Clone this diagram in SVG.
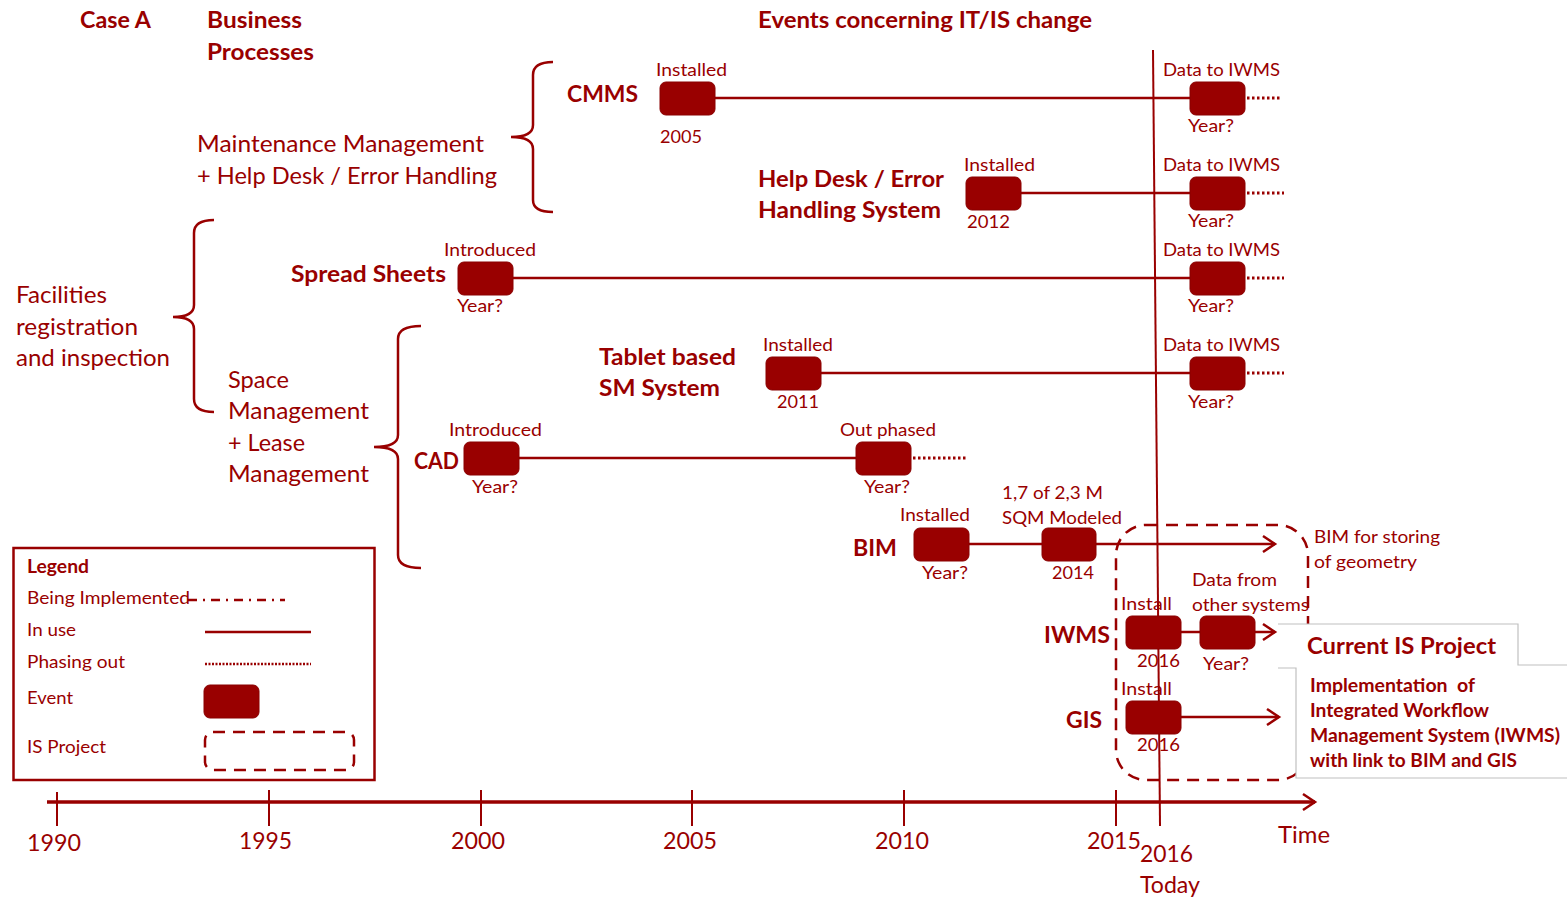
<svg xmlns="http://www.w3.org/2000/svg" width="1567" height="898" viewBox="0 0 1567 898">
<style>
text{font-family:Lato,"Liberation Sans",sans-serif;fill:#990000;}
.b{font-weight:bold;}
.h{font-size:23px;font-weight:bold;}
.p{font-size:23px;}
.s{font-size:18px;}
.sys{font-size:23px;font-weight:bold;}
.ax{font-size:24px;}
.lg{font-size:18px;}
.ln{stroke:#990000;stroke-width:2.5;fill:none;}
.dot{stroke:#990000;stroke-width:3;fill:none;stroke-dasharray:2.5,2.5;}
.ev{fill:#990000;stroke:#8a0000;stroke-width:1;}
.br{stroke:#990000;stroke-width:2.5;fill:none;}
.dash{stroke:#990000;stroke-width:2.5;fill:none;stroke-dasharray:12,8;}
</style>
<defs>
<marker id="chev" markerUnits="userSpaceOnUse" markerWidth="18" markerHeight="22" refX="15" refY="11" orient="auto">
<path d="M3,3 L15,11 L3,19" fill="none" stroke="#990000" stroke-width="2.5"/>
</marker>
</defs>
<rect width="1567" height="898" fill="#ffffff"/>

<g id="headers">
<text class="h" x="80" y="28" textLength="71" lengthAdjust="spacingAndGlyphs">Case A</text>
<text class="h" x="207" y="28" textLength="95" lengthAdjust="spacingAndGlyphs">Business</text>
<text class="h" x="207" y="60" textLength="107" lengthAdjust="spacingAndGlyphs">Processes</text>
<text class="h" x="758" y="28" textLength="334" lengthAdjust="spacingAndGlyphs">Events concerning IT/IS change</text>
</g>

<g id="process-maintenance">
<text class="p" x="197" y="152" textLength="287" lengthAdjust="spacingAndGlyphs">Maintenance Management</text>
<text class="p" x="197" y="184" textLength="300" lengthAdjust="spacingAndGlyphs">+ Help Desk / Error Handling</text>
<path class="br" d="M553,62 Q533,62 533,75 L533,125 Q533,137 511,137 Q533,137 533,149 L533,200 Q533,212 553,212"/>
</g>

<g id="process-facilities">
<text class="p" x="16" y="303" textLength="91" lengthAdjust="spacingAndGlyphs">Facilities</text>
<text class="p" x="16" y="335" textLength="122" lengthAdjust="spacingAndGlyphs">registration</text>
<text class="p" x="16" y="366" textLength="154" lengthAdjust="spacingAndGlyphs">and inspection</text>
<path class="br" d="M214,220 Q194,220 194,233 L194,305 Q194,317 173,317 Q194,317 194,329 L194,399 Q194,412 214,412"/>
</g>

<g id="process-space">
<text class="p" x="228" y="388" textLength="61" lengthAdjust="spacingAndGlyphs">Space</text>
<text class="p" x="228" y="419" textLength="141" lengthAdjust="spacingAndGlyphs">Management</text>
<text class="p" x="228" y="451" textLength="77" lengthAdjust="spacingAndGlyphs">+ Lease</text>
<text class="p" x="228" y="482" textLength="141" lengthAdjust="spacingAndGlyphs">Management</text>
<path class="br" d="M421,326 Q398,326 398,339 L398,435 Q398,447 374,447 Q398,447 398,459 L398,555 Q398,568 421,568"/>
</g>

<g id="today-line">
<line x1="1153" y1="50" x2="1160" y2="826" stroke="#990000" stroke-width="2"/>
</g>

<g id="connectors">
<line class="ln" x1="715" y1="98" x2="1190" y2="98"/>
<line class="dot" x1="1247" y1="98" x2="1280" y2="98"/>
<line class="ln" x1="1021" y1="193" x2="1190" y2="193"/>
<line class="dot" x1="1247" y1="193" x2="1284" y2="193"/>
<line class="ln" x1="513" y1="278" x2="1190" y2="278"/>
<line class="dot" x1="1247" y1="278" x2="1284" y2="278"/>
<line class="ln" x1="821" y1="373" x2="1190" y2="373"/>
<line class="dot" x1="1247" y1="373" x2="1284" y2="373"/>
<line class="ln" x1="519" y1="458" x2="856" y2="458"/>
<line class="dot" x1="913" y1="458" x2="966" y2="458"/>
<line class="ln" x1="969" y1="544" x2="1042" y2="544"/>
<line class="ln" x1="1096" y1="544" x2="1275" y2="544" marker-end="url(#chev)"/>
<line class="ln" x1="1181" y1="632" x2="1200" y2="632"/>
<line class="ln" x1="1255" y1="632" x2="1275" y2="632" marker-end="url(#chev)"/>
<line class="ln" x1="1181" y1="717" x2="1279" y2="717" marker-end="url(#chev)"/>
</g>

<g id="cmms">
<text class="sys" x="567" y="102" textLength="71" lengthAdjust="spacingAndGlyphs">CMMS</text>
<rect class="ev" x="660" y="82" width="55" height="33" rx="6"/>
<text class="s" x="656" y="76" textLength="71" lengthAdjust="spacingAndGlyphs">Installed</text>
<text class="s" x="660" y="143" textLength="42" lengthAdjust="spacingAndGlyphs">2005</text>
<rect class="ev" x="1190" y="82" width="55" height="33" rx="6"/>
<text class="s" x="1163" y="76" textLength="117" lengthAdjust="spacingAndGlyphs">Data to IWMS</text>
<text class="s" x="1188" y="132" textLength="46" lengthAdjust="spacingAndGlyphs">Year?</text>
</g>

<g id="helpdesk">
<text class="sys" x="758" y="187" textLength="186" lengthAdjust="spacingAndGlyphs">Help Desk / Error</text>
<text class="sys" x="758" y="218" textLength="183" lengthAdjust="spacingAndGlyphs">Handling System</text>
<rect class="ev" x="966" y="177" width="55" height="33" rx="6"/>
<text class="s" x="964" y="171" textLength="71" lengthAdjust="spacingAndGlyphs">Installed</text>
<text class="s" x="967" y="228" textLength="43" lengthAdjust="spacingAndGlyphs">2012</text>
<rect class="ev" x="1190" y="177" width="55" height="33" rx="6"/>
<text class="s" x="1163" y="171" textLength="117" lengthAdjust="spacingAndGlyphs">Data to IWMS</text>
<text class="s" x="1188" y="227" textLength="46" lengthAdjust="spacingAndGlyphs">Year?</text>
</g>

<g id="spreadsheets">
<text class="sys" x="291" y="282" textLength="155" lengthAdjust="spacingAndGlyphs">Spread Sheets</text>
<rect class="ev" x="458" y="262" width="55" height="33" rx="6"/>
<text class="s" x="444" y="256" textLength="92" lengthAdjust="spacingAndGlyphs">Introduced</text>
<text class="s" x="457" y="312" textLength="46" lengthAdjust="spacingAndGlyphs">Year?</text>
<rect class="ev" x="1190" y="262" width="55" height="33" rx="6"/>
<text class="s" x="1163" y="256" textLength="117" lengthAdjust="spacingAndGlyphs">Data to IWMS</text>
<text class="s" x="1188" y="312" textLength="46" lengthAdjust="spacingAndGlyphs">Year?</text>
</g>

<g id="tablet">
<text class="sys" x="599" y="365" textLength="137" lengthAdjust="spacingAndGlyphs">Tablet based</text>
<text class="sys" x="599" y="396" textLength="121" lengthAdjust="spacingAndGlyphs">SM System</text>
<rect class="ev" x="766" y="357" width="55" height="33" rx="6"/>
<text class="s" x="763" y="351" textLength="70" lengthAdjust="spacingAndGlyphs">Installed</text>
<text class="s" x="777" y="408" textLength="42" lengthAdjust="spacingAndGlyphs">2011</text>
<rect class="ev" x="1190" y="357" width="55" height="33" rx="6"/>
<text class="s" x="1163" y="351" textLength="117" lengthAdjust="spacingAndGlyphs">Data to IWMS</text>
<text class="s" x="1188" y="408" textLength="46" lengthAdjust="spacingAndGlyphs">Year?</text>
</g>

<g id="cad">
<text class="sys" x="414" y="469" textLength="45" lengthAdjust="spacingAndGlyphs">CAD</text>
<rect class="ev" x="464" y="442" width="55" height="33" rx="6"/>
<text class="s" x="449" y="436" textLength="93" lengthAdjust="spacingAndGlyphs">Introduced</text>
<text class="s" x="472" y="493" textLength="46" lengthAdjust="spacingAndGlyphs">Year?</text>
<rect class="ev" x="856" y="442" width="55" height="33" rx="6"/>
<text class="s" x="840" y="436" textLength="96" lengthAdjust="spacingAndGlyphs">Out phased</text>
<text class="s" x="864" y="493" textLength="46" lengthAdjust="spacingAndGlyphs">Year?</text>
</g>

<g id="bim">
<text class="sys" x="853" y="556" textLength="44" lengthAdjust="spacingAndGlyphs">BIM</text>
<rect class="ev" x="914" y="528" width="55" height="33" rx="6"/>
<text class="s" x="900" y="521" textLength="70" lengthAdjust="spacingAndGlyphs">Installed</text>
<text class="s" x="922" y="579" textLength="46" lengthAdjust="spacingAndGlyphs">Year?</text>
<rect class="ev" x="1042" y="528" width="54" height="33" rx="6"/>
<text class="s" x="1002" y="499" textLength="101" lengthAdjust="spacingAndGlyphs">1,7 of 2,3 M</text>
<text class="s" x="1002" y="524" textLength="120" lengthAdjust="spacingAndGlyphs">SQM Modeled</text>
<text class="s" x="1052" y="579" textLength="42" lengthAdjust="spacingAndGlyphs">2014</text>
<text class="s" x="1314" y="543" textLength="126" lengthAdjust="spacingAndGlyphs">BIM for storing</text>
<text class="s" x="1314" y="568" textLength="103" lengthAdjust="spacingAndGlyphs">of geometry</text>
</g>

<g id="is-project">
<rect class="dash" x="1116" y="525" width="192" height="255" rx="30"/>
</g>

<g id="iwms">
<text class="sys" x="1044" y="643" textLength="66" lengthAdjust="spacingAndGlyphs">IWMS</text>
<rect class="ev" x="1126" y="616" width="55" height="33" rx="6"/>
<text class="s" x="1121" y="610" textLength="51" lengthAdjust="spacingAndGlyphs">Install</text>
<text class="s" x="1137" y="667" textLength="43" lengthAdjust="spacingAndGlyphs">2016</text>
<rect class="ev" x="1200" y="616" width="55" height="33" rx="6"/>
<text class="s" x="1192" y="586" textLength="85" lengthAdjust="spacingAndGlyphs">Data from</text>
<text class="s" x="1192" y="611" textLength="117" lengthAdjust="spacingAndGlyphs">other systems</text>
<text class="s" x="1203" y="670" textLength="46" lengthAdjust="spacingAndGlyphs">Year?</text>
</g>

<g id="gis">
<text class="sys" x="1066" y="728" textLength="36" lengthAdjust="spacingAndGlyphs">GIS</text>
<rect class="ev" x="1126" y="701" width="55" height="33" rx="6"/>
<text class="s" x="1121" y="695" textLength="51" lengthAdjust="spacingAndGlyphs">Install</text>
<text class="s" x="1137" y="751" textLength="43" lengthAdjust="spacingAndGlyphs">2016</text>
</g>

<g id="current-project">
<path d="M1278,624 H1518 V665 H1567 V778 H1296 V668 H1278 Z" fill="#ffffff"/>
<path d="M1278,624 H1518 V665 H1567 M1278,668 H1296 V778 H1567" fill="none" stroke="#c0c0c0" stroke-width="1.2"/>
<text class="h" x="1307" y="654" font-size="22" textLength="189" lengthAdjust="spacingAndGlyphs">Current IS Project</text>
<text class="s b" x="1310" y="692" textLength="165" lengthAdjust="spacingAndGlyphs" xml:space="preserve">Implementation  of</text>
<text class="s b" x="1310" y="717" textLength="179" lengthAdjust="spacingAndGlyphs">Integrated Workflow</text>
<text class="s b" x="1310" y="742" textLength="250" lengthAdjust="spacingAndGlyphs">Management System (IWMS)</text>
<text class="s b" x="1310" y="767" textLength="207" lengthAdjust="spacingAndGlyphs">with link to BIM and GIS</text>
</g>

<g id="legend">
<rect x="13.5" y="548" width="361" height="232" fill="#ffffff" stroke="#990000" stroke-width="2.5"/>
<text class="lg b" x="27" y="573" textLength="62" lengthAdjust="spacingAndGlyphs">Legend</text>
<text class="lg" x="27" y="604" textLength="163" lengthAdjust="spacingAndGlyphs">Being Implemented</text>
<line x1="188" y1="600" x2="285" y2="600" stroke="#990000" stroke-width="2.5" stroke-dasharray="9,6,2,6"/>
<text class="lg" x="27" y="636" textLength="49" lengthAdjust="spacingAndGlyphs">In use</text>
<line class="ln" x1="205" y1="632" x2="311" y2="632"/>
<text class="lg" x="27" y="668" textLength="98" lengthAdjust="spacingAndGlyphs">Phasing out</text>
<line x1="205" y1="664" x2="311" y2="664" stroke="#990000" stroke-width="2.5" stroke-dasharray="2,1.5"/>
<text class="lg" x="27" y="704" textLength="46" lengthAdjust="spacingAndGlyphs">Event</text>
<rect class="ev" x="204" y="685" width="55" height="33" rx="6"/>
<text class="lg" x="27" y="753" textLength="79" lengthAdjust="spacingAndGlyphs">IS Project</text>
<rect class="dash" x="205" y="732" width="149" height="38" rx="8"/>
</g>

<g id="time-axis">
<line x1="47" y1="802" x2="1315" y2="802" stroke="#990000" stroke-width="3.5" marker-end="url(#chev)"/>
<g stroke="#990000" stroke-width="2">
<line x1="57" y1="792" x2="57" y2="826"/>
<line x1="269" y1="790" x2="269" y2="826"/>
<line x1="481" y1="790" x2="481" y2="826"/>
<line x1="692" y1="790" x2="692" y2="826"/>
<line x1="904" y1="790" x2="904" y2="826"/>
<line x1="1116" y1="790" x2="1116" y2="826"/>
</g>
<text class="ax" x="27" y="851" textLength="54" lengthAdjust="spacingAndGlyphs">1990</text>
<text class="ax" x="239" y="849" textLength="53" lengthAdjust="spacingAndGlyphs">1995</text>
<text class="ax" x="451" y="849" textLength="54" lengthAdjust="spacingAndGlyphs">2000</text>
<text class="ax" x="663" y="849" textLength="54" lengthAdjust="spacingAndGlyphs">2005</text>
<text class="ax" x="875" y="849" textLength="54" lengthAdjust="spacingAndGlyphs">2010</text>
<text class="ax" x="1087" y="849" textLength="54" lengthAdjust="spacingAndGlyphs">2015</text>
<text class="ax" x="1140" y="862" textLength="53" lengthAdjust="spacingAndGlyphs">2016</text>
<text class="ax" x="1140" y="893" textLength="60" lengthAdjust="spacingAndGlyphs">Today</text>
<text class="ax" x="1278" y="843" textLength="52" lengthAdjust="spacingAndGlyphs">Time</text>
</g>
</svg>
